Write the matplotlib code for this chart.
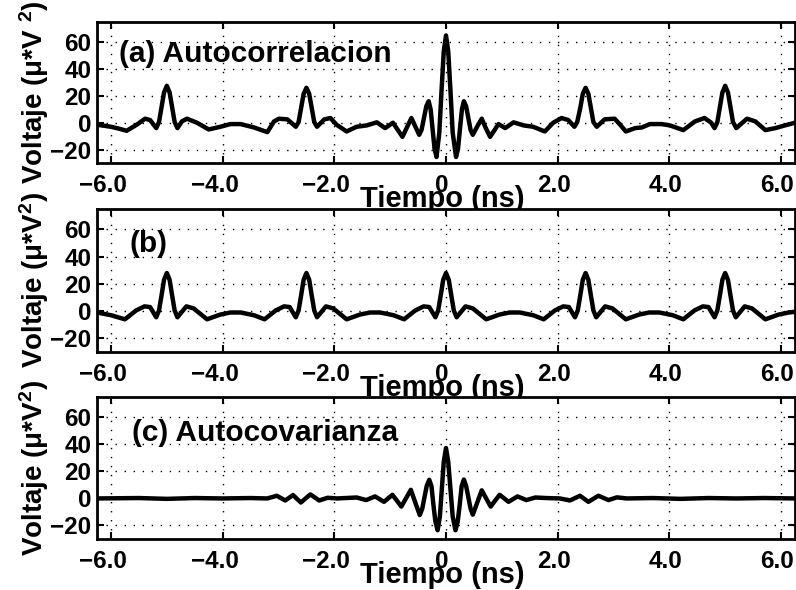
import matplotlib
matplotlib.use("Agg")
import matplotlib.pyplot as plt
import matplotlib.transforms as mtransforms

plt.rcParams['font.family'] = ['Liberation Sans', 'DejaVu Sans']
plt.rcParams['font.weight'] = 'bold'
plt.rcParams['mathtext.fontset'] = 'custom'
plt.rcParams['mathtext.rm'] = 'Liberation Sans:bold'
plt.rcParams['mathtext.bf'] = 'Liberation Sans:bold'
plt.rcParams['mathtext.default'] = 'bf'

# (a) autocorrelacion
ta = [-6.25, -6.0, -5.85, -5.72, -5.54, -5.39, -5.30, -5.19,
      -5.14, -5.095, -5.05, -5.0, -4.95, -4.905, -4.86, -4.81,
      -4.73, -4.64, -4.46, -4.25, -4.04, -3.86, -3.68, -3.44, -3.2, -3.08, -2.99, -2.84, -2.69,
      -2.64, -2.595, -2.55, -2.5, -2.45, -2.405, -2.36, -2.31,
      -2.18, -2.07, -1.96, -1.78, -1.6, -1.42, -1.24, -1.09, -0.95,
      -0.865, -0.78, -0.70, -0.62, -0.55, -0.48, -0.4375, -0.395, -0.3525, -0.31, -0.275, -0.24,
      -0.205, -0.17, -0.12, -0.08, -0.04, 0.0,
      0.04, 0.08, 0.12, 0.18, 0.215, 0.25, 0.285, 0.32, 0.36, 0.40, 0.44, 0.48, 0.56, 0.64,
      0.71, 0.79, 0.865, 0.94, 1.06, 1.21, 1.39, 1.56, 1.77, 1.92, 2.07, 2.19, 2.30,
      2.35, 2.405, 2.45, 2.5, 2.55, 2.595, 2.64, 2.70,
      2.84, 3.02, 3.12, 3.22, 3.39, 3.51, 3.65, 3.86, 4.01, 4.25, 4.46, 4.63, 4.75, 4.81,
      4.86, 4.905, 4.95, 5.0, 5.05, 5.095, 5.14, 5.2,
      5.39, 5.54, 5.72, 5.90, 6.07, 6.25]
va = [-1.5, -3, -4.5, -6, -1.5, 3, 2, -4,
      0.5, 11.5, 22.5, 27.5, 22.5, 11.5, 0.5, -4,
      1, 3, 0, -5, -3, -1, -1, -3.5, -7, 1, 3, 2.5, -3,
      0.5, 11, 21.5, 26, 21.5, 11, 0.5, -3,
      2.5, 3.5, -1.5, -6.5, -3, -2, 0.3, -4, 0,
      -5.25, -10.5, -3.5, 3.5, -2.75, -9, -5.3, 3.5, 12.3, 16, 9.9, -4.75,
      -19.4, -25.5, -7.5, 23.9, 53.2, 65,
      53.2, 23.9, -7.5, -25.5, -19.4, -4.75, 9.9, 16, 12.3, 3.5, -5.3, -9, -2.75, 3,
      -3.75, -10.5, -5.75, -1, -4, 0.3, -2, -3, -6.5, 0, 3.5, 2, -3,
      0.5, 11, 21.5, 26, 21.5, 11, 0.5, -3,
      2.5, 3, -1.5, -6.5, -4, -3.5, -1, -1, -2, -5.5, 1, 3.5, 0, -4,
      0.5, 11.5, 22.5, 27.5, 22.5, 11.5, 0.5, -4,
      3, 1, -5.5, -4, -2, 0]

# (b)
tb = [-6.25, -6.0, -5.75, -5.55, -5.4, -5.3, -5.19, -5.14, -5.095, -5.05, -5.0, -4.95, -4.905,
      -4.86, -4.81, -4.65, -4.52, -4.28, -4.04, -3.86, -3.68, -3.44, -3.25,
      -3.05, -2.9, -2.8, -2.69, -2.64, -2.595, -2.55, -2.5, -2.45, -2.405, -2.36, -2.31,
      -2.15, -2.02, -1.78, -1.54, -1.36, -1.18, -0.94, -0.75,
      -0.55, -0.4, -0.3, -0.19, -0.14, -0.095, -0.05, 0.0, 0.05, 0.095, 0.14, 0.19,
      0.35, 0.48, 0.72, 0.96, 1.14, 1.32, 1.56, 1.75,
      1.95, 2.1, 2.2, 2.31, 2.36, 2.405, 2.45, 2.5, 2.55, 2.595, 2.64, 2.69,
      2.85, 2.98, 3.22, 3.46, 3.64, 3.82, 4.06, 4.25,
      4.45, 4.6, 4.7, 4.81, 4.86, 4.905, 4.95, 5.0, 5.05, 5.095, 5.14, 5.19,
      5.35, 5.48, 5.72, 5.96, 6.14, 6.25]
vb = [-1, -3, -6, 0.5, 3.5, 3, -4.5, 0.5, 11.5, 23, 28, 23, 11.5,
      0.5, -4.5, 3.5, 2, -6, -2.5, -1, -1, -3, -6,
      0.5, 3.5, 3, -4.5, 0.5, 11.5, 23, 28, 23, 11.5, 0.5, -4.5,
      3.5, 2, -6, -2.5, -1, -1, -3, -6,
      0.5, 3.5, 3, -4.5, 0.5, 11.5, 23, 28, 23, 11.5, 0.5, -4.5,
      3.5, 2, -6, -2.5, -1, -1, -3, -6,
      0.5, 3.5, 3, -4.5, 0.5, 11.5, 23, 28, 23, 11.5, 0.5, -4.5,
      3.5, 2, -6, -2.5, -1, -1, -3, -6,
      0.5, 3.5, 3, -4.5, 0.5, 11.5, 23, 28, 23, 11.5, 0.5, -4.5,
      3.5, 2, -6, -2.5, -1, -0.5]

# (c) autocovarianza
tc = [-6.25, -5.5, -5.0, -4.5, -4.0, -3.5, -3.2, -3.03, -2.88, -2.74, -2.60, -2.43, -2.27,
      -2.12, -1.95, -1.75, -1.60, -1.43, -1.27, -1.11, -0.96, -0.88, -0.80, -0.715, -0.63,
      -0.55, -0.47, -0.425, -0.385, -0.345, -0.30, -0.26, -0.225, -0.19, -0.15, -0.11,
      -0.075, -0.04, 0.0, 0.04, 0.08, 0.12, 0.17, 0.21, 0.245, 0.28, 0.32, 0.36, 0.40,
      0.44, 0.48, 0.56, 0.64, 0.72, 0.80, 0.88, 0.96, 1.12, 1.28, 1.44, 1.60, 1.8, 2.04,
      2.22, 2.40, 2.55, 2.73, 2.91, 3.06, 3.24, 3.7, 4.2, 4.7, 5.2, 5.7, 6.25]
vc = [0, 0.3, -0.3, 0.3, 0, 0.3, 0, 2, -1.5, 2.5, -3, 3, -1.5,
      0.5, 0, 0.4, 0.7, -1.2, 1.5, -2.5, 2.7, -1.6, -6, 0.2, 6.4,
      -3, -12.3, -7.5, 1, 9.3, 13.8, 9, -4.85, -17, -23.5, -13.4,
      6.9, 27.1, 37.3, 27.1, 6.9, -13.4, -23.5, -17, -4.85, 9, 14, 9.3, 1,
      -7.5, -12, -3, 6, 0, -6, -1.6, 2.7, -2.5, 1.5, -1.2, 0.7, 0.3, 0,
      -1.5, 2, -2.5, 2, -1.2, 0.8, 0, 0.3, -0.3, 0.3, 0, 0.3, 0]

titles = ['(a) Autocorrelacion', '(b)', '(c) Autocovarianza']
ylabels = ['Voltaje (μ*V $^{2}$)', 'Voltaje (μ*V$^{2}$)', 'Voltaje (μ*V$^{2}$)']
xticks = [-6, -4, -2, 0, 2, 4, 6]
xticklabels = ['\u22126.0', '\u22124.0', '\u22122.0', '0', '2.0', '4.0', '6.0']
yticks = [-20, 0, 20, 40, 60]
yticklabels = ['\u221220', '0', '20', '40', '60']

fig = plt.figure(figsize=(7.96, 5.90), dpi=100)
boxes = [[0.1219, 0.7237, 0.8768, 0.2390],
         [0.1219, 0.4034, 0.8768, 0.2424],
         [0.1219, 0.0864, 0.8768, 0.2407]]
title_pos = [(0.0315, 0.77), (0.047, 0.755), (0.05, 0.75)]
series = [(ta, va), (tb, vb), (tc, vc)]

for i in range(3):
    ax = fig.add_axes(boxes[i])
    t, v = series[i]
    ax.plot(t, v, color='k', lw=3.2, solid_joinstyle='round', zorder=3)
    ax.set_xlim(-6.25, 6.25)
    ax.set_ylim(-30, 75)
    ax.set_xticks(xticks)
    ax.set_xticklabels(xticklabels)
    ax.set_yticks(yticks)
    ax.set_yticklabels(yticklabels)
    ax.grid(True, color='k', linestyle=(0, (1, 5.5)), linewidth=1.0, zorder=0)
    ax.tick_params(direction='in', length=5, width=1.5, top=True, right=True,
                   labelsize=17.5)
    ax.tick_params(axis='x', pad=8)
    ax.tick_params(axis='y', pad=4)
    # labels sit a little left of their ticks, as in the original
    for lab in ax.get_xticklabels():
        dx = -8 if lab.get_text().startswith('\u2212') else -4
        lab.set_transform(lab.get_transform() +
                          mtransforms.ScaledTranslation(dx / 100, 0, fig.dpi_scale_trans))
    for s in ax.spines.values():
        s.set_linewidth(2.0)
    ax.text(title_pos[i][0], title_pos[i][1], titles[i], transform=ax.transAxes,
            fontsize=21.5, fontweight='bold', ha='left', va='center')
    ax.set_xlabel('Tiempo (ns)', fontsize=21, fontweight='bold')
    ax.xaxis.set_label_coords(0.495, -0.155)
    ax.set_ylabel(ylabels[i], fontsize=20, fontweight='bold')
    ax.yaxis.set_label_coords(-0.066, 0.5)

fig.savefig("out.png", dpi=100)
